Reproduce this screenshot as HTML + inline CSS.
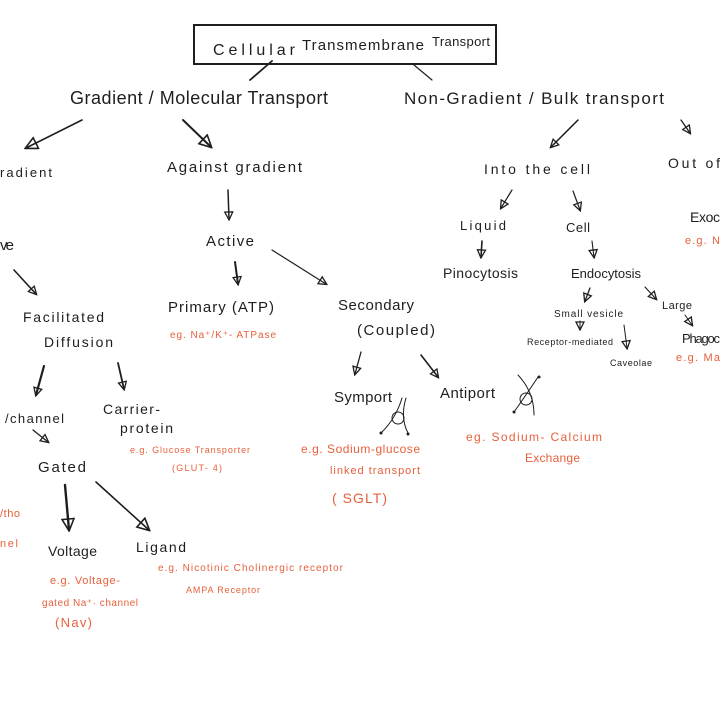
<!DOCTYPE html>
<html><head><meta charset="utf-8"><style>
html,body{margin:0;padding:0;background:#fff;width:720px;height:720px;overflow:hidden}
svg{display:block}
text{font-family:"Liberation Sans",sans-serif;fill:#1e1e1e}
.r{fill:#e8603c}
line,path{stroke:#1e1e1e;fill:none;stroke-linecap:round}
</style></head><body>
<svg width="720" height="720" viewBox="0 0 720 720" xmlns="http://www.w3.org/2000/svg">
<defs>
<marker id="a" markerWidth="10" markerHeight="10" refX="8" refY="5" orient="auto" markerUnits="userSpaceOnUse">
<path d="M1,1 L9,5 L1,9 Z" stroke="#1e1e1e" stroke-width="1.3" fill="#fff"/>
</marker>
<marker id="b" markerWidth="14" markerHeight="14" refX="12" refY="7" orient="auto" markerUnits="userSpaceOnUse">
<path d="M1,1 L13,7 L1,13 Z" stroke="#1e1e1e" stroke-width="1.6" fill="#fff"/>
</marker>
</defs>
<rect x="194" y="25" width="302" height="39" fill="none" stroke="#1e1e1e" stroke-width="2"/>
<text x="213" y="55" font-size="16" textLength="82">Cellular</text>
<text x="302" y="50" font-size="15" textLength="122">Transmembrane</text>
<text x="432" y="46" font-size="13" textLength="58">Transport</text>
<line x1="272" y1="61" x2="250" y2="80" stroke-width="1.8"/>
<line x1="414" y1="65" x2="432" y2="80" stroke-width="1.2"/>

<text x="70" y="104" font-size="18" textLength="258">Gradient / Molecular Transport</text>
<text x="404" y="104" font-size="17" textLength="260">Non-Gradient / Bulk transport</text>

<line x1="82" y1="120" x2="26" y2="148" stroke-width="1.6" marker-end="url(#b)"/>
<line x1="183" y1="120" x2="211" y2="147" stroke-width="2" marker-end="url(#b)"/>
<text x="0" y="177" font-size="13" textLength="52">radient</text>
<text x="167" y="172" font-size="15" textLength="135">Against gradient</text>
<line x1="228" y1="190" x2="229" y2="219" stroke-width="1.5" marker-end="url(#a)"/>
<text x="206" y="246" font-size="15" textLength="48">Active</text>
<line x1="235" y1="262" x2="238" y2="284" stroke-width="2" marker-end="url(#a)"/>
<line x1="272" y1="250" x2="326" y2="284" stroke-width="1.2" marker-end="url(#a)"/>
<text x="0" y="250" font-size="15" textLength="14">ve</text>
<line x1="14" y1="270" x2="36" y2="294" stroke-width="1.6" marker-end="url(#a)"/>
<text x="23" y="322" font-size="14" textLength="81">Facilitated</text>
<text x="44" y="347" font-size="14" textLength="69">Diffusion</text>
<text x="168" y="312" font-size="15" textLength="106">Primary (ATP)</text>
<text class="r" x="170" y="338" font-size="10" textLength="106">eg. Na⁺/K⁺- ATPase</text>
<text x="338" y="310" font-size="15" textLength="76">Secondary</text>
<text x="357" y="335" font-size="15" textLength="78">(Coupled)</text>
<line x1="361" y1="352" x2="355" y2="374" stroke-width="1.3" marker-end="url(#a)"/>
<line x1="421" y1="355" x2="438" y2="377" stroke-width="1.6" marker-end="url(#a)"/>
<text x="334" y="402" font-size="15" textLength="58">Symport</text>
<text x="440" y="398" font-size="15" textLength="55">Antiport</text>
<!-- symport symbol -->
<circle cx="398" cy="418" r="6" fill="none" stroke="#1e1e1e" stroke-width="1"/>
<path d="M402,398 Q396,418 382,432" stroke-width="1"/>
<path d="M406,398 Q400,418 408,433" stroke-width="1"/>
<circle cx="381" cy="433" r="1.5" fill="#1e1e1e"/><circle cx="408" cy="434" r="1.5" fill="#1e1e1e"/>
<!-- antiport symbol -->
<circle cx="526" cy="399" r="6" fill="none" stroke="#1e1e1e" stroke-width="1"/>
<path d="M518,375 Q534,392 534,415" stroke-width="1"/>
<path d="M538,377 Q524,398 514,412" stroke-width="1"/>
<circle cx="514" cy="412" r="1.5" fill="#1e1e1e"/><circle cx="539" cy="377" r="1.5" fill="#1e1e1e"/>
<text class="r" x="301" y="453" font-size="12" textLength="119">e.g. Sodium-glucose</text>
<text class="r" x="330" y="474" font-size="11" textLength="90">linked transport</text>
<text class="r" x="332" y="503" font-size="14" textLength="55">( SGLT)</text>
<text class="r" x="466" y="441" font-size="12" textLength="136">eg. Sodium- Calcium</text>
<text class="r" x="525" y="462" font-size="12" textLength="55">Exchange</text>

<line x1="44" y1="366" x2="36" y2="395" stroke-width="2.2" marker-end="url(#a)"/>
<line x1="118" y1="363" x2="124" y2="389" stroke-width="1.8" marker-end="url(#a)"/>
<text x="5" y="423" font-size="13" textLength="59">/channel</text>
<line x1="33" y1="430" x2="48" y2="442" stroke-width="1.3" marker-end="url(#a)"/>
<text x="38" y="472" font-size="15" textLength="48">Gated</text>
<text x="103" y="414" font-size="14" textLength="57">Carrier-</text>
<text x="120" y="433" font-size="14" textLength="53">protein</text>
<text class="r" x="130" y="453" font-size="9" textLength="120">e.g. Glucose Transporter</text>
<text class="r" x="172" y="471" font-size="9" textLength="50">(GLUT- 4)</text>
<text class="r" x="0" y="517" font-size="11" textLength="20">/tho</text>
<text class="r" x="0" y="547" font-size="11" textLength="18">nel</text>
<line x1="65" y1="485" x2="69" y2="530" stroke-width="2.4" marker-end="url(#b)"/>
<line x1="96" y1="482" x2="149" y2="530" stroke-width="1.6" marker-end="url(#b)"/>
<text x="48" y="556" font-size="14" textLength="49">Voltage</text>
<text x="136" y="552" font-size="14" textLength="50">Ligand</text>
<text class="r" x="50" y="584" font-size="11" textLength="70">e.g. Voltage-</text>
<text class="r" x="42" y="606" font-size="10" textLength="96">gated Na⁺· channel</text>
<text class="r" x="55" y="627" font-size="13" textLength="37">(Nav)</text>
<text class="r" x="158" y="571" font-size="10" textLength="185">e.g. Nicotinic Cholinergic receptor</text>
<text class="r" x="186" y="593" font-size="9" textLength="74">AMPA Receptor</text>

<line x1="578" y1="120" x2="551" y2="147" stroke-width="1.5" marker-end="url(#a)"/>
<line x1="681" y1="120" x2="690" y2="133" stroke-width="1.3" marker-end="url(#a)"/>
<text x="484" y="174" font-size="14" textLength="106">Into the cell</text>
<text x="668" y="168" font-size="14" textLength="52">Out of</text>
<text x="690" y="222" font-size="14" textLength="30">Exoc</text>
<text class="r" x="685" y="244" font-size="11" textLength="35">e.g. N</text>
<line x1="512" y1="190" x2="501" y2="208" stroke-width="1.2" marker-end="url(#a)"/>
<line x1="573" y1="191" x2="580" y2="210" stroke-width="1.2" marker-end="url(#a)"/>
<text x="460" y="230" font-size="13" textLength="46">Liquid</text>
<text x="566" y="232" font-size="13" textLength="24">Cell</text>
<line x1="482" y1="241" x2="481" y2="257" stroke-width="1.6" marker-end="url(#a)"/>
<line x1="592" y1="241" x2="594" y2="257" stroke-width="1.1" marker-end="url(#a)"/>
<text x="443" y="278" font-size="14" textLength="75">Pinocytosis</text>
<text x="571" y="278" font-size="13" textLength="70">Endocytosis</text>
<line x1="590" y1="288" x2="585" y2="301" stroke-width="1.3" marker-end="url(#a)"/>
<line x1="645" y1="287" x2="656" y2="299" stroke-width="1.1" marker-end="url(#a)"/>
<text x="554" y="317" font-size="10" textLength="69">Small vesicle</text>
<text x="662" y="309" font-size="11" textLength="30">Large</text>
<line x1="580" y1="321" x2="580" y2="329" stroke-width="1" marker-end="url(#a)"/>
<line x1="624" y1="325" x2="627" y2="348" stroke-width="1" marker-end="url(#a)"/>
<text x="527" y="345" font-size="9" textLength="86">Receptor-mediated</text>
<text x="610" y="366" font-size="9" textLength="42">Caveolae</text>
<line x1="685" y1="315" x2="692" y2="325" stroke-width="1" marker-end="url(#a)"/>
<text x="682" y="343" font-size="13" textLength="38">Phagoc</text>
<text class="r" x="676" y="361" font-size="11" textLength="44">e.g. Ma</text>
</svg>
</body></html>
